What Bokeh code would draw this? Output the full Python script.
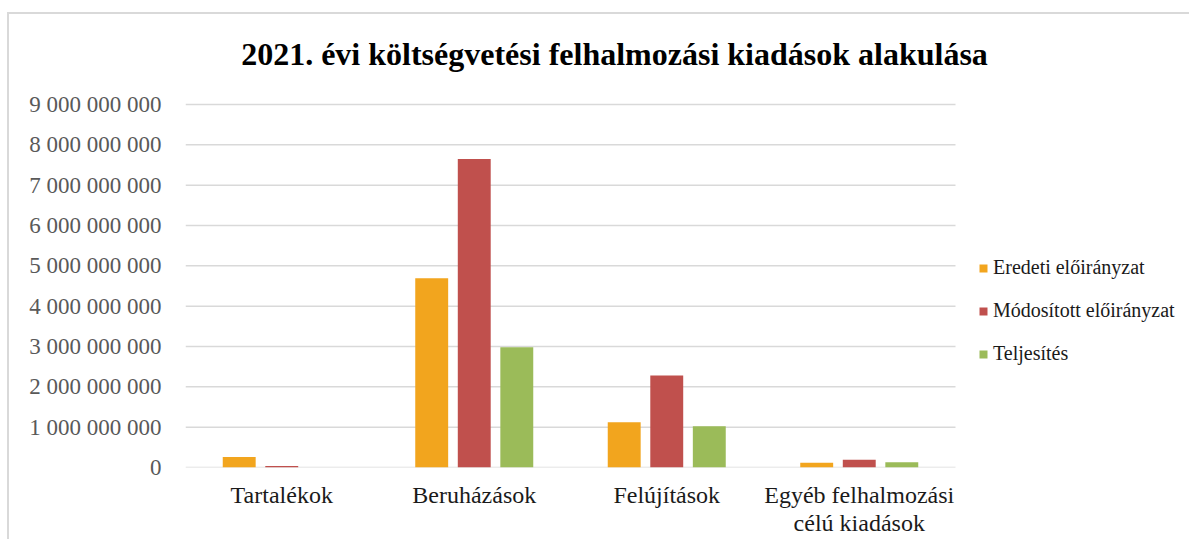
from bokeh.plotting import figure
from bokeh.models import (ColumnDataSource, Legend, LegendItem, FixedTicker, Label, Range1d)
from bokeh.transform import dodge
from bokeh.embed import file_html
from bokeh.resources import INLINE

categories = ["Tartalékok", "Beruházások", "Felújítások", "Egyéb felhalmozási\ncélú kiadások"]
series_names = ["Eredeti előirányzat", "Módosított előirányzat", "Teljesítés"]
eredeti = [0.26e9, 4.69e9, 1.12e9, 0.12e9]
modositott = [0.04e9, 7.65e9, 2.28e9, 0.19e9]
teljesites = [0.0, 2.98e9, 1.02e9, 0.13e9]
y_ticks = [0, 1e9, 2e9, 3e9, 4e9, 5e9, 6e9, 7e9, 8e9, 9e9]
y_tick_labels = ["0", "1 000 000 000", "2 000 000 000", "3 000 000 000", "4 000 000 000",
                 "5 000 000 000", "6 000 000 000", "7 000 000 000", "8 000 000 000",
                 "9 000 000 000"]
title_text = "2021. évi költségvetési felhalmozási kiadások alakulása"

colors = ["#F2A51E", "#C0504D", "#9BBB59"]
FONT = "Liberation Serif"

# layout: the frame covers the whole right/top part of the canvas so that the title and
# legend (drawn inside it) are not clipped; the value axis occupies the lower 363 px and
# the categories the left 770 px of it
W, H = 1180, 525
LEFT, BOTTOM = 176, 72
FRAME_W, FRAME_H = W - LEFT, H - BOTTOM
AXIS_W, AXIS_H = 770, 363
n = len(categories)
x_pos = list(range(n))
x_end = -0.5 + n * FRAME_W / AXIS_W
y_end = y_ticks[-1] * FRAME_H / AXIS_H

src = ColumnDataSource(dict(x=x_pos, e=eredeti, m=modositott, t=teljesites))

p = figure(x_range=Range1d(-0.5, x_end), y_range=Range1d(0, y_end),
           width=W, height=H, output_backend="svg", toolbar_location=None,
           min_border_left=LEFT, min_border_right=0, min_border_top=0, min_border_bottom=BOTTOM)
p.frame_width = FRAME_W
p.frame_height = FRAME_H
p.outline_line_color = None
p.background_fill_color = "white"
p.border_fill_color = "white"
p.title = None
p.styles = {"margin-left": "7px", "margin-top": "12px",
            "border-left": "2px solid #d9d9d9", "border-top": "2px solid #d9d9d9"}

# gridlines, spanning only the category area
p.xgrid.visible = False
p.ygrid.visible = False
p.segment(x0=-0.5, x1=n - 0.5, y0=y_ticks, y1=y_ticks, line_color="#d9d9d9", line_width=1.5)

w = 0.171
step = 0.221
r1 = p.vbar(x=dodge("x", -step), top="e", width=w, source=src,
            fill_color=colors[0], line_color=None)
r2 = p.vbar(x=dodge("x", 0.0), top="m", width=w, source=src,
            fill_color=colors[1], line_color=None)
r3 = p.vbar(x=dodge("x", step), top="t", width=w, source=src,
            fill_color=colors[2], line_color=None)

# axes
p.yaxis.ticker = FixedTicker(ticks=y_ticks)
p.yaxis.major_label_overrides = {t: l for t, l in zip(y_ticks, y_tick_labels)}
p.yaxis.axis_line_color = None
p.yaxis.major_tick_line_color = None
p.yaxis.minor_tick_line_color = None
p.yaxis.major_label_standoff = 18
p.yaxis.major_label_text_font = FONT
p.yaxis.major_label_text_font_size = "23px"
p.yaxis.major_label_text_color = "#595959"

p.xaxis.ticker = FixedTicker(ticks=x_pos)
p.xaxis.major_label_overrides = {i: c for i, c in zip(x_pos, categories)}
p.xaxis.axis_line_color = None
p.xaxis.major_tick_line_color = None
p.xaxis.minor_tick_line_color = None
p.xaxis.major_label_standoff = 8
p.xaxis.major_label_text_font = FONT
p.xaxis.major_label_text_font_size = "24px"
p.xaxis.major_label_text_color = "#1a1a1a"
p.xaxis.major_label_text_line_height = 1.1

# title (screen units from the frame's bottom-left)
title = Label(x=429, y=414, x_units="screen", y_units="screen", text=title_text,
              text_font=FONT, text_font_size="32px", text_font_style="bold",
              text_color="#000000", text_align="center", text_baseline="middle")
p.add_layout(title)

# legend
legend = Legend(items=[LegendItem(label=series_names[0], renderers=[r1]),
                       LegendItem(label=series_names[1], renderers=[r2]),
                       LegendItem(label=series_names[2], renderers=[r3])],
                location=(793, 102), orientation="vertical")
legend.label_text_font = FONT
legend.label_text_font_size = "20px"
legend.label_text_color = "#1a1a1a"
legend.glyph_width = 10
legend.glyph_height = 10
legend.label_standoff = 5
legend.label_height = 20
legend.spacing = 20
legend.padding = 0
legend.margin = 0
legend.border_line_color = None
legend.background_fill_alpha = 0
p.add_layout(legend, "center")

open("out.html", "w").write(file_html(p, INLINE))
